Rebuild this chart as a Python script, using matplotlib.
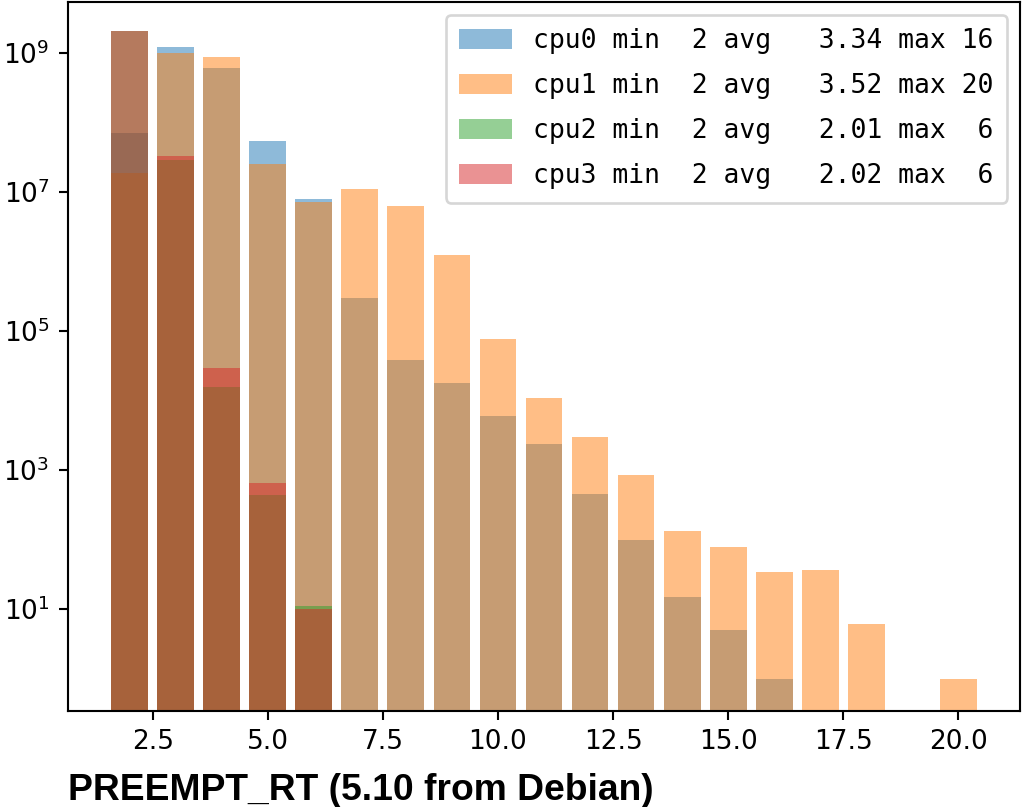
import numpy as np
import matplotlib
matplotlib.use("Agg")
import matplotlib.pyplot as plt
from matplotlib.ticker import NullLocator

# ---- data ----
bins = list(range(2, 21))
cpu0 = [7.0e7, 1.22e9, 6.08e8, 5.37e7, 7.9e6, 2.94e5, 3.81e4, 1.76e4, 6.0e3,
        2.34e3, 447, 97, 15, 5, 1, 0, 0, 0, 0]
cpu1 = [1.86e7, 1.01e9, 8.8e8, 2.5e7, 7.07e6, 1.1e7, 6.18e6, 1.26e6, 7.6e4,
        1.07e4, 3.0e3, 838, 132, 79, 34, 37, 6, 0, 1]
cpu2 = [2.05e9, 2.87e7, 1.57e4, 440, 11, 0, 0, 0, 0,
        0, 0, 0, 0, 0, 0, 0, 0, 0, 0]
cpu3 = [2.05e9, 3.3e7, 2.95e4, 643, 10, 0, 0, 0, 0,
        0, 0, 0, 0, 0, 0, 0, 0, 0, 0]
series = [cpu0, cpu1, cpu2, cpu3]
labels = [
    "cpu0 min  2 avg   3.34 max 16",
    "cpu1 min  2 avg   3.52 max 20",
    "cpu2 min  2 avg   2.01 max  6",
    "cpu3 min  2 avg   2.02 max  6",
]
xticks = [2.5, 5.0, 7.5, 10.0, 12.5, 15.0, 17.5, 20.0]
yticks = [1e1, 1e3, 1e5, 1e7, 1e9]
title = "PREEMPT_RT (5.10 from Debian)"

plt.rcParams['font.family'] = ['DejaVu Sans']

W, H, DPI = 1023, 807, 190
fig = plt.figure(figsize=(W / DPI, H / DPI), dpi=DPI)
ax = fig.add_axes([68 / W, 1 - 711 / H, (1020 - 68) / W, (711 - 2) / H])

colors = plt.rcParams['axes.prop_cycle'].by_key()['color']
for i, (vals, lab) in enumerate(zip(series, labels)):
    v = np.array(vals, dtype=float)
    mask = v > 0
    ax.bar(np.array(bins)[mask], v[mask], width=0.8, alpha=0.5,
           color=colors[i], label=lab)

ax.set_yscale('log')
ax.set_ylim(10 ** -0.467, 10 ** 9.733)
ax.set_yticks(yticks)
ax.yaxis.set_minor_locator(NullLocator())
ax.set_xticks(xticks)
ax.set_xticklabels([f"{t:.1f}" for t in xticks])

ax.legend(loc='upper right', prop={'family': 'DejaVu Sans Mono', 'size': 10},
          labelspacing=0.72, handleheight=0.8, borderpad=0.5)

fig.text(68 / W, 1 - 800 / H, title, fontsize=14.1, fontweight='bold',
         family=['Liberation Sans', 'DejaVu Sans'], ha='left', va='baseline')

fig.savefig('out.png', dpi=DPI)
